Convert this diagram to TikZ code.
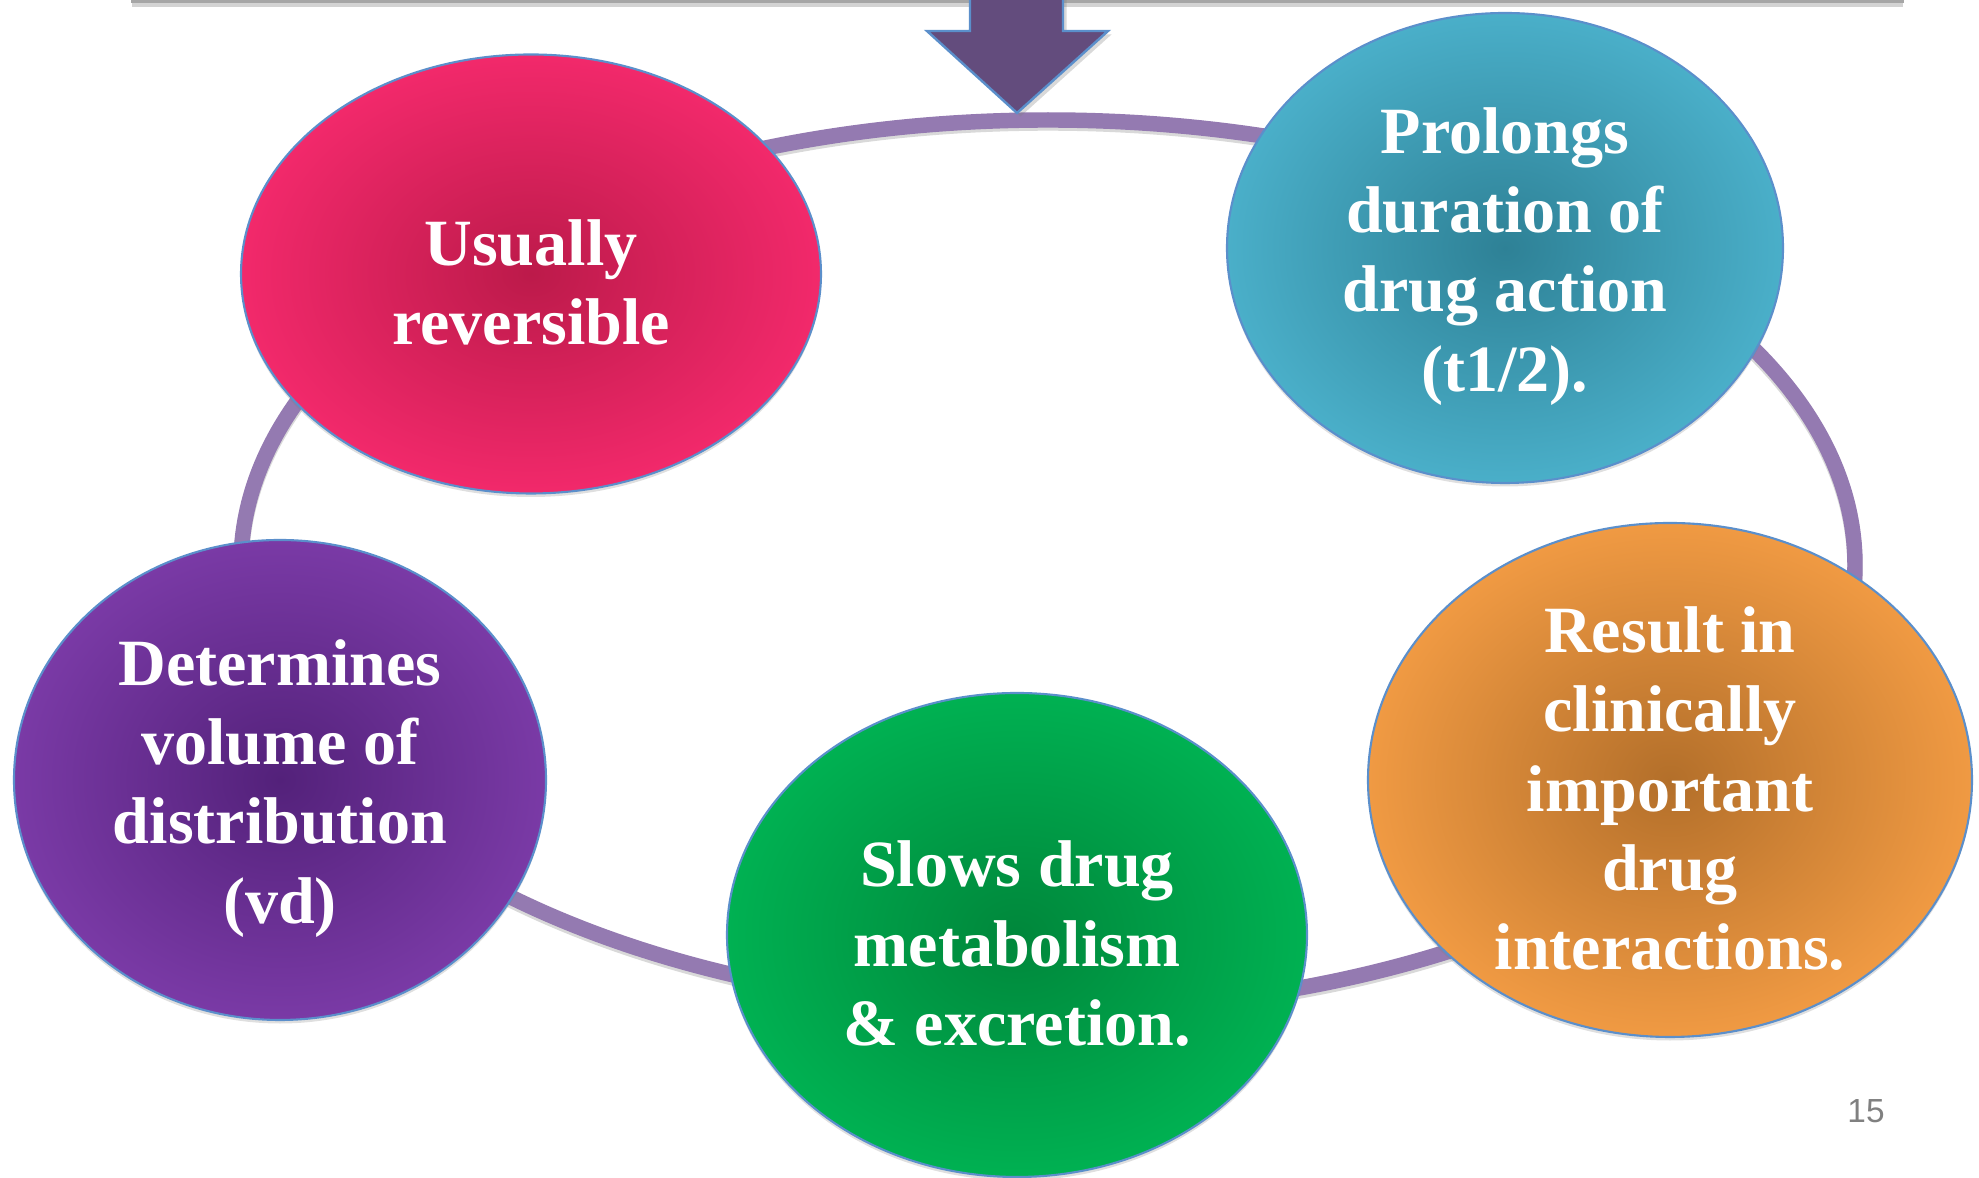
\documentclass[tikz,border=0pt]{standalone}
\usepackage{fontspec}
\setmainfont{Liberation Serif}
\newfontfamily\pagefont{Liberation Sans}
\usetikzlibrary{shapes.geometric,shadows}

\definecolor{ringpurple}{HTML}{947AB1}
\definecolor{edgeblue}{HTML}{5B8FCB}
\definecolor{arrowpurple}{HTML}{634C7D}
\definecolor{pinkout}{HTML}{F2296B}
\definecolor{pinkin}{HTML}{BC1A4A}
\definecolor{tealout}{HTML}{4AAFC9}
\definecolor{tealin}{HTML}{2E8196}
\definecolor{violetout}{HTML}{7A3AA6}
\definecolor{violetin}{HTML}{53217A}
\definecolor{greenout}{HTML}{00B152}
\definecolor{greenin}{HTML}{00873B}
\definecolor{orangeout}{HTML}{F09A43}
\definecolor{orangein}{HTML}{B36F2A}

% taller first line so the text block sits a little lower in its bubble
\newcommand{\toppad}{\rule{0pt}{0.63cm}}

\tikzset{
  bubble/.style={ellipse, draw=edgeblue, line width=0.6pt, inner sep=0pt,
    align=center, text=white, font=\bfseries\fontsize{18.8}{22.5}\selectfont,
    shading=radial,
    drop shadow={opacity=0.25, shadow xshift=0pt, shadow yshift=-1pt}},
  ring/.style={draw=ringpurple, line width=4.4pt}
}

\begin{document}
\begin{tikzpicture}
  \useasboundingbox (0,0) rectangle (19.79,11.78);
  \clip (0,0) rectangle (19.79,11.78);

  % bottom edge of the box above, with its shadow
  \draw[gray!70, fill=white, line width=0.8pt,
    drop shadow={opacity=0.35, shadow xshift=0pt, shadow yshift=-1.5pt}]
    (1.32,11.765) rectangle (19.03,12.6);

  % big ring behind the bubbles (soft shadow first)
  \draw[ring, draw=black, opacity=0.15] (10.48,6.10) ellipse [x radius=8.07, y radius=4.45];
  \draw[ring] (10.48,6.13) ellipse [x radius=8.07, y radius=4.45];

  % block arrow coming down from the box onto the ring
  \draw[fill=arrowpurple, draw=edgeblue, line width=0.7pt, line join=miter,
    drop shadow={opacity=0.3, shadow xshift=1pt, shadow yshift=-1pt}]
    (9.70,12.2) -- (9.70,11.47) -- (9.27,11.47) -- (10.17,10.65)
    -- (11.08,11.47) -- (10.63,11.47) -- (10.63,12.2) -- cycle;

  % the five bubbles round the ring
  \node[bubble, inner color=pinkin, outer color=pinkout,
    minimum width=5.80cm, minimum height=4.39cm] (reversible) at (5.31,9.04)
    {\toppad Usually\\reversible};
  \node[bubble, inner color=tealin, outer color=tealout,
    minimum width=5.56cm, minimum height=4.70cm] (duration) at (15.05,9.30)
    {\toppad Prolongs\\duration of\\drug action\\(t1/2).};
  \node[bubble, inner color=violetin, outer color=violetout,
    minimum width=5.32cm, minimum height=4.80cm] (volume) at (2.80,3.98)
    {\toppad Determines\\volume of\\distribution\\(vd)};
  \node[bubble, inner color=greenin, outer color=greenout,
    minimum width=5.80cm, minimum height=4.84cm] (metabolism) at (10.17,2.43)
    {\toppad Slows drug\\metabolism\\\& excretion.};
  % five lines: negative inner sep keeps the bubble at its own size
  \node[bubble, inner sep=-0.25cm, inner color=orangein, outer color=orangeout,
    minimum width=6.04cm, minimum height=5.14cm] (interactions) at (16.70,3.98)
    {\toppad Result in\\clinically\\important\\drug\\interactions.};

  % slide number
  \node[text=gray, font=\pagefont\fontsize{9.5}{11}\selectfont] (pagenum) at (18.66,0.67) {15};
\end{tikzpicture}
\end{document}
